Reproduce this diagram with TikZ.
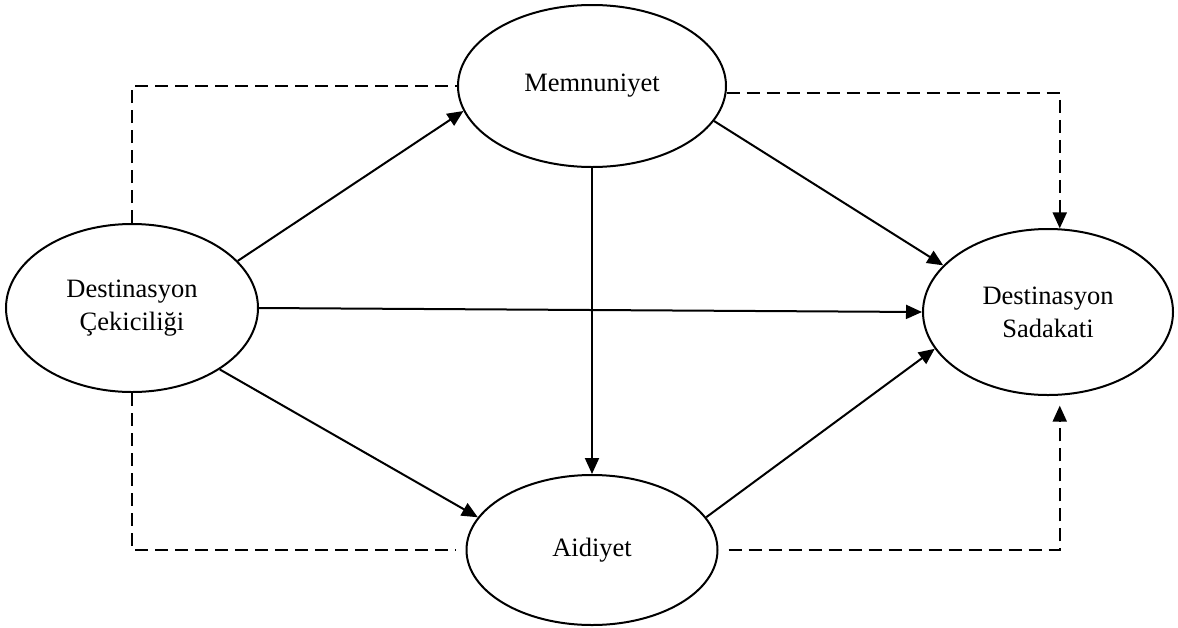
\documentclass[tikz,border=0pt]{standalone}
\usepackage{fontspec}
\setmainfont{Liberation Serif}
\usetikzlibrary{shapes.geometric,arrows.meta}
\begin{document}
\begin{tikzpicture}[x=1pt,y=-1pt,
  construct/.style={ellipse, draw, line width=2pt, inner sep=0pt, align=center,
    font=\fontsize{26.5}{33}\selectfont},
  tip/.style={-{Triangle[length=16pt,width=14pt]}},
  link/.style={line width=2pt, tip},
  dashlink/.style={line width=2pt, dash pattern=on 13pt off 7pt},
]
\useasboundingbox (0,0) rectangle (1178,627);

% constructs
\node[construct, minimum width=268pt, minimum height=162pt] (mem) at (592,86) {Memnuniyet};
\node[construct, minimum width=252pt, minimum height=168pt] (cek) at (132,308) {Destinasyon\\Çekiciliği};
\node[construct, minimum width=250pt, minimum height=166pt] (sad) at (1048,312) {Destinasyon\\Sadakati};
\node[construct, minimum width=251pt, minimum height=150pt] (aid) at (592,550) {Aidiyet};

% direct paths
\draw[link] (cek.24.5) -- (mem.191.5);
\draw[link] (cek.0) -- (sad.180);
\draw[link] (cek.-35.5) -- (aid.164);
\draw[link] (mem.-16) -- (sad.156);
\draw[link] (mem.south) -- (aid.north);
\draw[link] (aid.16.4) -- (sad.198.3);

% mediated paths
\draw[dashlink] (cek.north) |- (mem.west);
\draw[dashlink, shorten >=10pt] (cek.south) |- (aid.west);
\draw[dashlink, tip] (mem.-3.9) -| (sad.82.4);
\draw[dashlink, tip, shorten <=10pt, shorten >=10pt] (aid.east) -| (sad.-82.4);
\end{tikzpicture}
\end{document}
